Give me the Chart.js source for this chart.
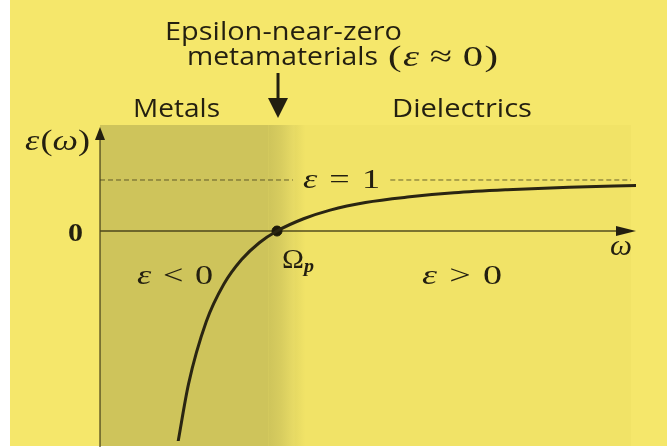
<!DOCTYPE html>
<html>
<head>
<meta charset="utf-8">
<script src="https://cdn.jsdelivr.net/npm/chart.js@4/dist/chart.umd.min.js"></script>
<style>
  html, body { margin: 0; padding: 0; background: #fff; }
  canvas { display: block; }
</style>
</head>
<body>
<canvas id="drude" width="667" height="447"></canvas>
<script>
// permittivity ε(ω) of a Drude metal, ω in units of the plasma frequency Ωp
const omega   = [0.44, 0.5, 0.6, 0.7, 0.8, 0.9, 1.0, 1.15, 1.3, 1.5, 1.75, 2.0, 2.3, 2.65, 3.03];
const epsilon = [-4.15, -3.0, -1.78, -1.04, -0.56, -0.23, 0, 0.24, 0.41, 0.56, 0.67, 0.75, 0.81, 0.86, 0.89];

// ε = 1 asymptote, broken where its label sits
const asymOmega = [0, 1.09, 1.63, 1.64, 3.0];
const asymEps   = [1, 1, null, 1, 1];

const plasmaPoint = { x: 1, y: 0 };
const yTickValues = [0];
const yTickLabels = ['0'];

const X_MAX = 3.028, Y_MIN = -4.115, Y_MAX = 2.058;

const YELLOW = '#f5e76b';
const SHADE  = '#cec45b';
const INK    = '#231f10';

const SANS  = '"Open Sans"';
const SERIF = '"Liberation Serif"';

// draw a row of text runs, stretched horizontally to a given width
function drawRuns(ctx, runs, x, y, width) {
  let natural = 0;
  runs.forEach(r => { ctx.font = r.font; natural += ctx.measureText(r.t).width + (r.gap || 0); });
  ctx.save();
  ctx.translate(x, y);
  ctx.scale(width / natural, 1);
  ctx.fillStyle = INK;
  ctx.textBaseline = 'alphabetic';
  ctx.textAlign = 'left';
  let cx = 0;
  runs.forEach(r => {
    ctx.font = r.font;
    ctx.fillText(r.t, cx, r.dy || 0);
    cx += ctx.measureText(r.t).width + (r.gap || 0);
  });
  ctx.restore();
}

const it = (s) => `italic ${s}px ${SERIF}`;
const rm = (s) => `${s}px ${SERIF}`;
const sans = (s) => `${s}px ${SANS}`;

// relation such as "ε < 0" with math spacing
const relation = (op, rhs, s) => [
  { t: 'ε', font: it(s), gap: 9 }, { t: op, font: rm(s), gap: 9 }, { t: rhs, font: rm(s) }
];

const backdrop = {
  id: 'backdrop',
  beforeDraw(chart) {
    const { ctx, width, height, chartArea, scales } = chart;
    const xs = scales.x;
    ctx.save();
    ctx.fillStyle = '#ffffff';
    ctx.fillRect(0, 0, width, height);
    ctx.fillStyle = YELLOW;
    ctx.fillRect(10, 0, width - 10, height - 1);

    // dielectric panel, barely darker than the page
    ctx.fillStyle = 'rgba(200,185,60,0.08)';
    ctx.fillRect(xs.getPixelForValue(1.1), chartArea.top - 1,
                 xs.getPixelForValue(3.0) - xs.getPixelForValue(1.1), height - chartArea.top);

    // metals panel, fading out just past Ωp
    const a = xs.getPixelForValue(0.95), b = xs.getPixelForValue(1.16);
    const g = ctx.createLinearGradient(a, 0, b, 0);
    g.addColorStop(0, SHADE);
    g.addColorStop(0.35, 'rgba(206,196,91,0.75)');
    g.addColorStop(1, 'rgba(206,196,91,0)');
    ctx.fillStyle = SHADE;
    ctx.fillRect(chartArea.left, chartArea.top - 1, a - chartArea.left, height - chartArea.top);
    ctx.fillStyle = g;
    ctx.fillRect(a, chartArea.top - 1, b - a, height - chartArea.top);
    ctx.restore();
  },
  beforeDatasetsDraw(chart) {
    const { ctx, chartArea, scales } = chart;
    const xs = scales.x, ys = scales.y;
    const x0 = xs.getPixelForValue(0), y0 = ys.getPixelForValue(0);
    ctx.save();
    ctx.strokeStyle = 'rgba(45,40,12,0.8)';
    ctx.lineWidth = 1.3;
    ctx.beginPath();
    ctx.moveTo(x0, chart.height);
    ctx.lineTo(x0, chartArea.top + 10);
    ctx.moveTo(x0, y0);
    ctx.lineTo(chartArea.right - 16, y0);
    ctx.stroke();

    // arrowheads
    ctx.fillStyle = INK;
    ctx.beginPath();
    ctx.moveTo(x0, chartArea.top + 1);
    ctx.lineTo(x0 - 5, chartArea.top + 14);
    ctx.lineTo(x0 + 5, chartArea.top + 14);
    ctx.closePath();
    ctx.fill();
    ctx.beginPath();
    ctx.moveTo(chartArea.right, y0);
    ctx.lineTo(chartArea.right - 20, y0 - 5);
    ctx.lineTo(chartArea.right - 20, y0 + 5);
    ctx.closePath();
    ctx.fill();
    ctx.restore();
  },
  afterDraw(chart) {
    const { ctx, scales } = chart;
    const xs = scales.x, ys = scales.y;
    ctx.save();

    // heading and arrow
    drawRuns(ctx, [{ t: 'Epsilon-near-zero', font: sans(25) }], 165, 40, 237);
    drawRuns(ctx, [{ t: 'metamaterials', font: sans(25) }], 187, 65, 191);
    drawRuns(ctx, [
      { t: '(', font: rm(30), gap: 1 }, { t: 'ε', font: it(30), gap: 8 },
      { t: '≈', font: rm(30), gap: 8 }, { t: '0', font: rm(30), gap: 1 }, { t: ')', font: rm(30) }
    ], 388, 66, 110);

    const ax = xs.getPixelForValue(plasmaPoint.x) + 1;
    ctx.strokeStyle = INK;
    ctx.lineWidth = 3;
    ctx.beginPath();
    ctx.moveTo(ax, 73);
    ctx.lineTo(ax, 100);
    ctx.stroke();
    ctx.fillStyle = INK;
    ctx.beginPath();
    ctx.moveTo(ax - 10, 98);
    ctx.lineTo(ax + 10, 98);
    ctx.lineTo(ax, 118);
    ctx.closePath();
    ctx.fill();

    drawRuns(ctx, [{ t: 'Metals', font: sans(25) }], 133, 117, 87);
    drawRuns(ctx, [{ t: 'Dielectrics', font: sans(25) }], 392, 117, 140);

    // axis labels
    drawRuns(ctx, [
      { t: 'ε', font: it(29), gap: 1 }, { t: '(', font: rm(29) },
      { t: 'ω', font: it(29) }, { t: ')', font: rm(29) }
    ], 25, 150, 65);
    yTickValues.forEach((v, i) => {
      drawRuns(ctx, [{ t: yTickLabels[i], font: `bold ${rm(26)}` }], 68, ys.getPixelForValue(v) + 10, 15);
    });
    drawRuns(ctx, [{ t: 'ω', font: it(29) }], 610, 255, 22);

    // asymptote and region labels
    drawRuns(ctx, relation('=', '1', 27), 303, ys.getPixelForValue(1) + 8, 77);
    drawRuns(ctx, relation('<', '0', 28), 137, 284, 76);
    drawRuns(ctx, relation('>', '0', 28), 422, 284, 80);
    drawRuns(ctx, [
      { t: 'Ω', font: rm(28) }, { t: 'p', font: `bold ${it(19)}`, dy: 4 }
    ], xs.getPixelForValue(plasmaPoint.x) + 5, ys.getPixelForValue(0) + 37, 32);

    ctx.restore();
  }
};

function build() {
  new Chart(document.getElementById('drude'), {
    type: 'scatter',
    data: {
      datasets: [
        {
          label: 'ε = 1',
          data: asymOmega.map((w, i) => ({ x: w, y: asymEps[i] })),
          showLine: true,
          spanGaps: false,
          borderColor: 'rgba(60,55,25,0.75)',
          borderWidth: 1,
          borderDash: [5, 3],
          pointRadius: 0
        },
        {
          label: 'ε(ω)',
          data: omega.map((w, i) => ({ x: w, y: epsilon[i] })),
          showLine: true,
          cubicInterpolationMode: 'monotone',
          borderColor: '#2a2512',
          borderWidth: 3,
          pointRadius: 0
        },
        {
          label: 'Ωp',
          data: [plasmaPoint],
          pointRadius: 5,
          pointBackgroundColor: '#1b1809',
          pointBorderColor: '#1b1809'
        }
      ]
    },
    options: {
      responsive: false,
      devicePixelRatio: 1,
      animation: false,
      layout: { padding: { left: 100, right: 31, top: 126, bottom: 0 } },
      scales: {
        x: { type: 'linear', min: 0, max: X_MAX, display: false },
        y: { type: 'linear', min: Y_MIN, max: Y_MAX, display: false }
      },
      plugins: {
        legend: { display: false },
        tooltip: { enabled: false }
      }
    },
    plugins: [backdrop]
  });
}

// canvas text needs the faces loaded before the first paint
Promise.all([
  document.fonts.load(`25px ${SANS}`, 'Metals'),
  document.fonts.load(`26px ${SERIF}`, '0=<>Ω('),
  document.fonts.load(`italic 26px ${SERIF}`, 'εωp'),
  document.fonts.load(`bold 26px ${SERIF}`, '0p'),
  document.fonts.load(`bold italic 18px ${SERIF}`, 'p')
]).catch(() => {}).then(build);
</script>
</body>
</html>
